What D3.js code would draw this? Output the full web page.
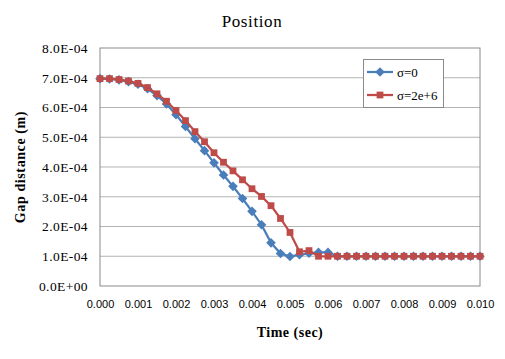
<!DOCTYPE html>
<html><head><meta charset="utf-8">
<script src="https://cdn.jsdelivr.net/npm/d3@7"></script>
<style>body{margin:0;background:#fff;}svg{display:block;}</style>
</head><body>
<script>
const times = d3.range(41).map(i => +(i * 0.00025).toFixed(5));
// values in units of 1e-4 m
const sigma0 = [6.97,6.96,6.93,6.87,6.78,6.63,6.40,6.12,5.76,5.36,4.95,4.55,4.14,3.73,3.35,2.94,2.51,2.06,1.45,1.09,0.99,1.05,1.10,1.13,1.13,
  1.0,1.0,1.0,1.0,1.0,1.0,1.0,1.0,1.0,1.0,1.0,1.0,1.0,1.0,1.0,1.0];
const sigma2e6 = [6.97,6.97,6.94,6.89,6.81,6.67,6.46,6.21,5.90,5.56,5.19,4.85,4.48,4.16,3.87,3.57,3.27,3.01,2.70,2.27,1.80,1.15,1.19,1.0,1.0,
  1.0,1.0,1.0,1.0,1.0,1.0,1.0,1.0,1.0,1.0,1.0,1.0,1.0,1.0,1.0,1.0];
const yTicks = [0,1e-4,2e-4,3e-4,4e-4,5e-4,6e-4,7e-4,8e-4];
const yTickLabels = ["0.0E+00","1.0E-04","2.0E-04","3.0E-04","4.0E-04","5.0E-04","6.0E-04","7.0E-04","8.0E-04"];
const xTicks = [0,0.001,0.002,0.003,0.004,0.005,0.006,0.007,0.008,0.009,0.010];
const seriesNames = ["σ=0","σ=2e+6"];
const colors = ["#4a7ebb","#be4b48"];

const W = 505, H = 359;
const L = 100, R = 480, T = 48, B = 286;
const svg = d3.select("body").append("svg").attr("width", W).attr("height", H);
const x = d3.scaleLinear().domain([0, 0.01]).range([L, R]);
const y = d3.scaleLinear().domain([0, 8e-4]).range([B, T]);
const serif = "'Liberation Serif','DejaVu Serif',serif";
const sans = "'Liberation Sans','DejaVu Sans',sans-serif";

// gridlines
svg.append("g").selectAll("line").data(yTicks.slice(1, -1)).join("line")
  .attr("x1", L).attr("x2", R).attr("y1", d => y(d)).attr("y2", d => y(d))
  .attr("stroke", "#b3b3b3").attr("stroke-width", 1);
// plot border
svg.append("rect").attr("x", L).attr("y", T).attr("width", R - L).attr("height", B - T)
  .attr("fill", "none").attr("stroke", "#8a8a8a").attr("stroke-width", 1);

// y axis labels
const yAxis = d3.axisLeft(y).tickValues(yTicks).tickSize(0).tickPadding(12)
  .tickFormat((d, i) => yTickLabels[i]);
const gy = svg.append("g").attr("transform", `translate(${L},0)`).call(yAxis);
gy.select(".domain").remove();
gy.selectAll("text").attr("font-family", serif).attr("font-size", 13.5)
  .attr("letter-spacing", 0.4).attr("fill", "#000");

// x axis labels
const xAxis = d3.axisBottom(x).tickValues(xTicks).tickSize(0).tickPadding(14)
  .tickFormat(d3.format(".3f"));
const gx = svg.append("g").attr("transform", `translate(0,${B})`).call(xAxis);
gx.select(".domain").remove();
gx.selectAll("text").attr("font-family", sans).attr("font-size", 11).attr("fill", "#000");

// title and axis titles
svg.append("text").attr("x", 252).attr("y", 27).attr("text-anchor", "middle")
  .attr("font-family", serif).attr("font-size", 17).attr("letter-spacing", 0.6).text("Position");
svg.append("text").attr("x", 290).attr("y", 337).attr("text-anchor", "middle")
  .attr("font-family", serif).attr("font-weight", "bold").attr("font-size", 14)
  .attr("letter-spacing", 0.5).text("Time (sec)");
svg.append("text").attr("transform", "translate(25,167) rotate(-90)").attr("text-anchor", "middle")
  .attr("font-family", serif).attr("font-weight", "bold").attr("font-size", 14)
  .attr("letter-spacing", 0.6).text("Gap distance (m)");

const series = [sigma0, sigma2e6];
const line = d3.line().x((d, i) => x(times[i])).y(d => y(d * 1e-4));
const diamondPath = "M0,-4.8L4.8,0L0,4.8L-4.8,0Z";
const square = d3.symbol().type(d3.symbolSquare).size(46);

series.forEach((vals, si) => {
  const g = svg.append("g");
  g.append("path").datum(vals).attr("d", line).attr("fill", "none")
    .attr("stroke", colors[si]).attr("stroke-width", 2.25);
  g.selectAll("path.m").data(vals).join("path").attr("class", "m")
    .attr("d", si === 0 ? diamondPath : square)
    .attr("transform", (d, i) => `translate(${x(times[i])},${y(d * 1e-4)})`)
    .attr("fill", colors[si]);
});

// legend
const lg = svg.append("g");
lg.append("rect").attr("x", 363.5).attr("y", 59.5).attr("width", 80).attr("height", 48)
  .attr("fill", "#fff").attr("stroke", "#8a8a8a");
seriesNames.forEach((name, i) => {
  const yy = 72 + i * 23;
  lg.append("line").attr("x1", 367).attr("x2", 393).attr("y1", yy).attr("y2", yy)
    .attr("stroke", colors[i]).attr("stroke-width", 2.25);
  lg.append("path").attr("d", i === 0 ? diamondPath : square).attr("transform", `translate(380,${yy})`)
    .attr("fill", colors[i]);
  lg.append("text").attr("x", 397).attr("y", yy + 4.5).attr("font-family", serif)
    .attr("font-size", 13).text(name);
});
</script>
</body></html>
